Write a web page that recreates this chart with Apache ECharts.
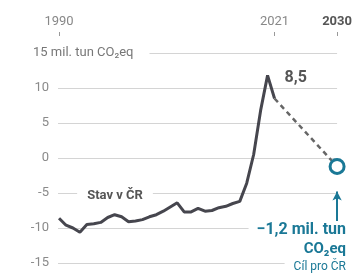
<!DOCTYPE html>
<html>
<head>
<meta charset="utf-8">
<script src="https://cdn.jsdelivr.net/npm/echarts@6/dist/echarts.min.js"></script>
<style>
  html, body { margin: 0; padding: 0; background: #fff; }
  #chart { width: 355px; height: 274px; }
</style>
</head>
<body>
<div id="chart"></div>
<script>
// data
var years = [1990, 1991, 1992, 1993, 1994, 1995, 1996, 1997, 1998, 1999,
    2000, 2001, 2002, 2003, 2004, 2005, 2006, 2007, 2008, 2009,
    2010, 2011, 2012, 2013, 2014, 2015, 2016, 2017, 2018, 2019, 2020, 2021];
var stav = [-8.6, -9.6, -10.0, -10.6, -9.5, -9.4, -9.2, -8.5, -8.1, -8.4,
    -9.1, -9.0, -8.8, -8.4, -8.1, -7.6, -7.0, -6.4, -7.7, -7.7,
    -7.2, -7.6, -7.5, -7.1, -6.9, -6.5, -6.2, -3.6, 0.5, 6.8, 11.8, 8.5];
var cilYears = [2021, 2030];
var cilValues = [8.5, -1.2];
var yearTicks = [1990, 2021, 2030];

var teal = '#1a7896';
var font = 'Roboto, "Noto Sans", sans-serif';

var chartDom = document.getElementById('chart');
var myChart = echarts.init(chartDom);

var stavData = [];
for (var i = 0; i < years.length; i++) {
    stavData.push([years[i], stav[i]]);
}

var option = {
    animation: false,
    grid: { left: 58, right: 14, top: 53, bottom: 11 },
    xAxis: {
        type: 'value',
        position: 'top',
        offset: 17,
        // a little room before 1990 so its tick is drawn
        min: 1989.85,
        max: 2030,
        axisLine: { show: false, onZero: false },
        splitLine: { show: false },
        axisTick: {
            show: true,
            length: 4,
            customValues: yearTicks,
            lineStyle: { color: '#999', width: 1 }
        },
        axisLabel: {
            customValues: yearTicks,
            margin: 8,
            fontFamily: font,
            fontSize: 13,
            color: '#888',
            formatter: function (v) {
                return v === 2030 ? '{b|' + v + '}' : String(v);
            },
            rich: { b: { fontFamily: font, fontSize: 13, fontWeight: 'bold', color: '#555' } }
        }
    },
    yAxis: {
        type: 'value',
        min: -15,
        max: 15,
        interval: 5,
        axisLine: { show: false },
        axisTick: { show: false },
        splitLine: { lineStyle: { color: '#d4d4d4', width: 1 } },
        axisLabel: {
            margin: 9,
            fontFamily: font,
            fontSize: 13,
            color: '#8a8a8a',
            formatter: function (v) {
                return v === 15 ? '' : String(v);
            }
        }
    },
    series: [{
        name: 'Stav v ČR',
        type: 'line',
        data: stavData,
        symbol: 'none',
        lineStyle: { color: '#46464e', width: 3 },
        z: 3
    }, {
        name: 'Cíl',
        type: 'line',
        data: [
            { value: [cilYears[0], cilValues[0]], symbol: 'none' },
            {
                value: [cilYears[1], cilValues[1]],
                symbol: 'circle',
                symbolSize: 14,
                itemStyle: { color: '#fff', borderColor: teal, borderWidth: 3 }
            }
        ],
        lineStyle: { color: '#666', width: 2.5, type: [5, 4] },
        z: 4,
        markPoint: {
            silent: true,
            symbol: 'circle',
            symbolSize: 0,
            data: [{
                coord: [cilYears[0], cilValues[0]],
                label: {
                    show: true,
                    position: 'right',
                    offset: [5, -21],
                    formatter: '8,5',
                    fontFamily: font,
                    fontSize: 16,
                    fontWeight: 'bold',
                    color: '#555'
                }
            }]
        },
        markLine: {
            silent: true,
            symbol: ['none', 'arrow'],
            symbolSize: [7, 9],
            label: { show: false },
            lineStyle: { color: teal, width: 2, type: 'solid' },
            data: [[{ coord: [2030, -9.1] }, { coord: [2030, -4.8] }]]
        }
    }],
    graphic: [
        {
            type: 'text', z: 100, x: 33, y: 53,
            style: {
                text: '15 mil. tun CO₂eq', font: '13px ' + font, fill: '#777',
                align: 'left', verticalAlign: 'middle',
                backgroundColor: '#fff', padding: [2, 16, 2, 0]
            }
        },
        {
            type: 'text', z: 100, x: 115, y: 196,
            style: {
                text: 'Stav v ČR', font: 'bold 13px ' + font, fill: '#555',
                align: 'center', verticalAlign: 'middle',
                backgroundColor: '#fff', padding: [2, 10]
            }
        },
        {
            type: 'text', z: 100, x: 346, y: 230,
            style: {
                text: '−1,2 mil. tun', font: 'bold 16px ' + font, fill: teal,
                align: 'right', verticalAlign: 'middle',
                backgroundColor: '#fff', padding: [1, 0, 1, 8]
            }
        },
        {
            type: 'text', z: 100, x: 346, y: 249,
            style: {
                text: 'CO₂eq', font: 'bold 15px ' + font, fill: teal,
                align: 'right', verticalAlign: 'middle'
            }
        },
        {
            type: 'text', z: 100, x: 346, y: 267,
            style: {
                text: 'Cíl pro ČR', font: '12px ' + font, fill: teal,
                align: 'right', verticalAlign: 'middle',
                backgroundColor: '#fff', padding: [1, 0, 1, 9]
            }
        }
    ]
};
option && myChart.setOption(option);
</script>
</body>
</html>
